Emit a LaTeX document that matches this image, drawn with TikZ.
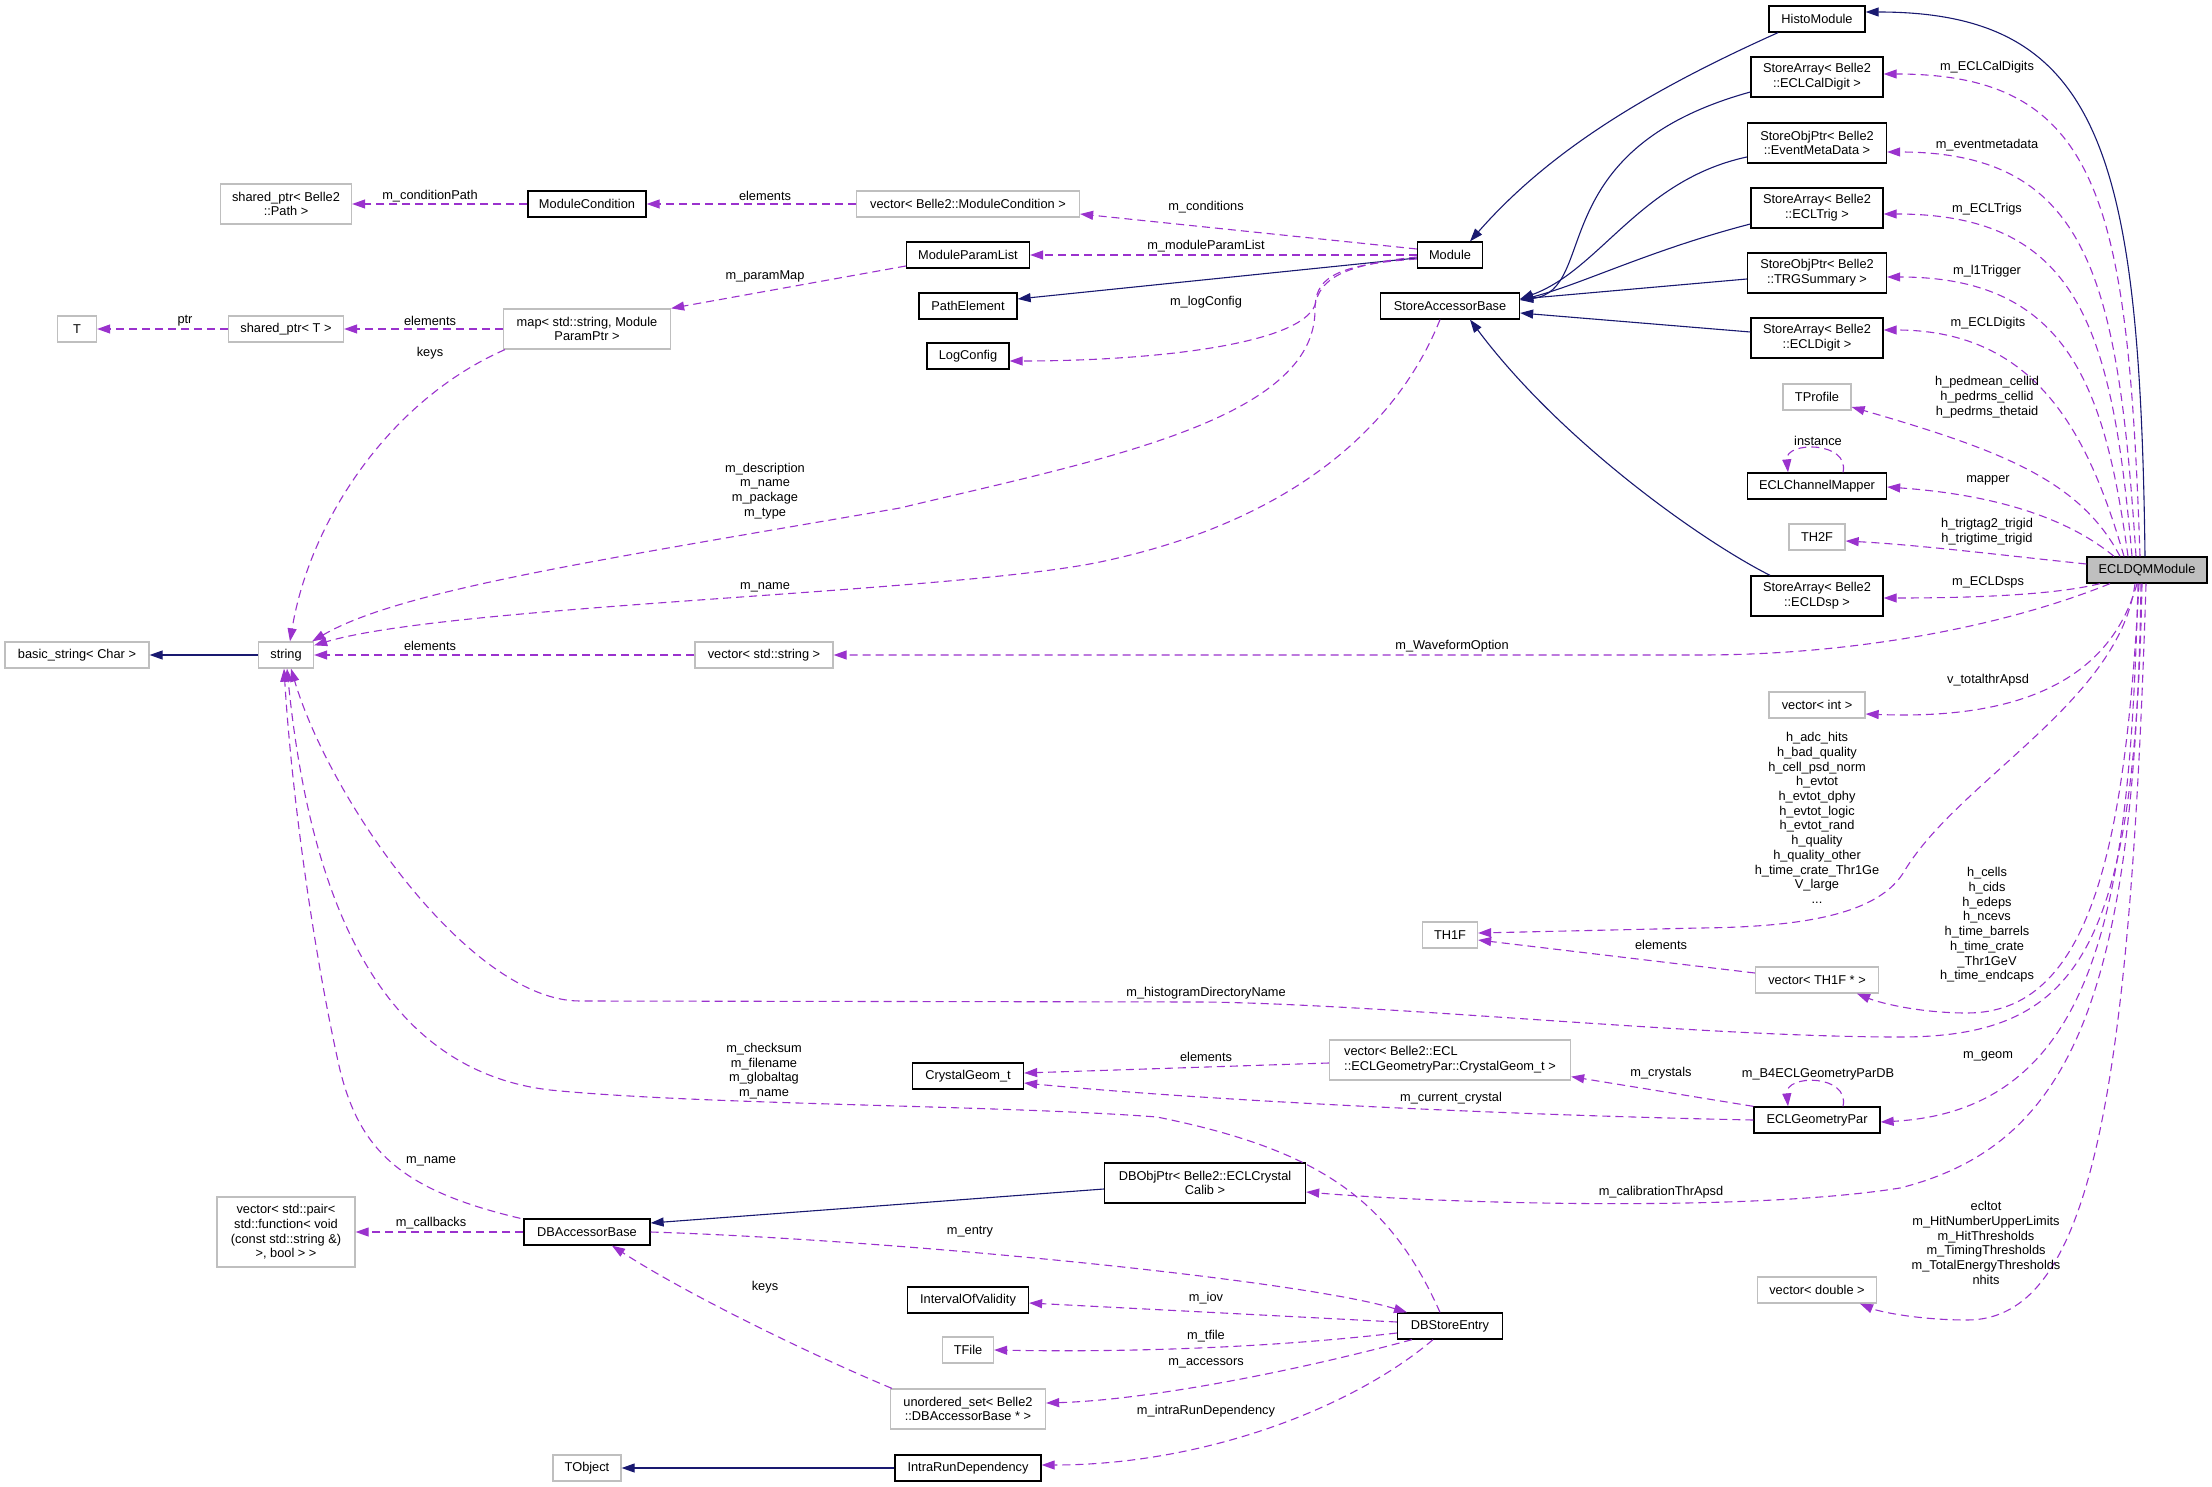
\documentclass[tikz,border=0pt]{standalone}
\usepackage{fontspec}
\setmainfont{Liberation Sans}
\usetikzlibrary{arrows.meta}
\definecolor{edgeuse}{HTML}{9A32CD}
\definecolor{edgeinh}{HTML}{191970}
\definecolor{boxgray}{HTML}{BFBFBF}
\tikzset{
  cls/.style={draw=black, line width=1.3pt, fill=white, inner xsep=6pt, inner ysep=3pt,
    minimum height=26pt, align=center},
  ext/.style={cls, draw=boxgray},
  two/.style={minimum height=40pt},
  lbl/.style={inner sep=0pt, align=center},
  derive/.style={draw=edgeinh, line width=1.1pt, -{Triangle[length=13pt,width=9pt]}},
  member/.style={draw=edgeuse, line width=1.1pt, dash pattern=on 8pt off 5pt,
    -{Triangle[length=13pt,width=9pt]}}
}
\begin{document}
\begin{tikzpicture}[x=1pt, y=-1pt, font=\fontsize{12.8}{14.7}\selectfont]
    \useasboundingbox (0,0) rectangle (2212,1487);

    % classes, right column
    \node[cls, minimum width=96pt] (histoMod) at (1817,19) {HistoModule};
    \node[cls, two, minimum width=132pt] (calDigit) at (1817,77) {StoreArray< Belle2\\::ECLCalDigit >};
    \node[cls, two, minimum width=139pt] (evtMeta) at (1817,143) {StoreObjPtr< Belle2\\::EventMetaData >};
    \node[cls, two, minimum width=132pt] (eclTrig) at (1817,208) {StoreArray< Belle2\\::ECLTrig >};
    \node[cls, two, minimum width=139pt] (trgSum) at (1817,273) {StoreObjPtr< Belle2\\::TRGSummary >};
    \node[cls, two, minimum width=132pt] (eclDigit) at (1817,338) {StoreArray< Belle2\\::ECLDigit >};
    \node[ext, minimum width=68pt] (tProfile) at (1817,397) {TProfile};
    \node[cls, minimum width=139pt] (chMapper) at (1817,486) {ECLChannelMapper};
    \node[ext, minimum width=56pt] (th2f) at (1817,537) {TH2F};
    \node[cls, two, minimum width=132pt] (eclDsp) at (1817,596) {StoreArray< Belle2\\::ECLDsp >};
    \node[cls, fill=boxgray, minimum width=120pt] (eclDQM) at (2147,570) {ECLDQMModule};
    \node[ext, minimum width=96pt] (vecInt) at (1817,705) {vector< int >};
    \node[ext, minimum width=123pt] (vecTH1F) at (1817,980) {vector< TH1F * >};
    \node[cls, minimum width=126pt] (geomPar) at (1817,1120) {ECLGeometryPar};
    \node[ext, minimum width=119pt] (vecDouble) at (1817,1290) {vector< double >};

    % classes, middle
    \node[ext, minimum width=223pt] (vecModCond) at (968,204) {vector< Belle2::ModuleCondition >};
    \node[cls, minimum width=123pt] (paramList) at (968,255) {ModuleParamList};
    \node[cls, minimum width=98pt] (pathElem) at (968,306) {PathElement};
    \node[cls, minimum width=82pt] (logConfig) at (968,356) {LogConfig};
    \node[cls, minimum width=65pt] (module) at (1450,255) {Module};
    \node[cls, minimum width=139pt] (accBase) at (1450,306) {StoreAccessorBase};
    \node[ext, minimum width=55pt] (th1f) at (1450,935) {TH1F};
    \node[ext, two, minimum width=241pt, align=left] (vecCrystal) at (1450,1060) {vector< Belle2::ECL\\::ECLGeometryPar::CrystalGeom\_t >};
    \node[cls, minimum width=111pt] (crystal) at (968,1076) {CrystalGeom\_t};
    \node[cls, two, minimum width=201pt] (dbObjPtr) at (1205,1183) {DBObjPtr< Belle2::ECLCrystal\\Calib >};
    \node[cls, minimum width=121pt] (iov) at (968,1300) {IntervalOfValidity};
    \node[cls, minimum width=105pt] (dbStore) at (1450,1326) {DBStoreEntry};
    \node[ext, minimum width=51pt] (tFile) at (968,1350) {TFile};
    \node[ext, two, minimum width=155pt] (unordSet) at (968,1409) {unordered\_set< Belle2\\::DBAccessorBase * >};
    \node[cls, minimum width=146pt] (intraRun) at (968,1468) {IntraRunDependency};

    % classes, left
    \node[ext, two, minimum width=131pt] (sharedPath) at (286,204) {shared\_ptr< Belle2\\::Path >};
    \node[cls, minimum width=118pt] (modCond) at (587,204) {ModuleCondition};
    \node[ext, minimum width=39pt] (tNode) at (77,329) {T};
    \node[ext, minimum width=115pt] (sharedT) at (286,329) {shared\_ptr< T >};
    \node[ext, two, minimum width=167pt] (paramMap) at (587,329) {map< std::string, Module\\ParamPtr >};
    \node[ext, minimum width=144pt] (basicStr) at (77,655) {basic\_string< Char >};
    \node[ext, minimum width=55pt] (strNode) at (286,655) {string};
    \node[ext, minimum width=138pt] (vecStr) at (764,655) {vector< std::string >};
    \node[ext, minimum width=138pt, minimum height=70pt] (vecPair) at (286,1232) {vector< std::pair<\\std::function< void\\(const std::string \&)\\>, bool > >};
    \node[cls, minimum width=126pt] (dbAccBase) at (587,1232) {DBAccessorBase};
    \node[ext, minimum width=68pt] (tObject) at (587,1468) {TObject};

    % inheritance
    \draw[derive] ([xshift=-2pt]eclDQM.north) .. controls (2140,150) and (2100,12) .. ([yshift=7pt]histoMod.east);
    \draw[derive] ([xshift=-39pt]histoMod.south) .. controls (1650,90) and (1550,150) .. ([xshift=20pt]module.north);
    \draw[derive] ([yshift=-15pt]calDigit.west) .. controls (1540,150) and (1600,290) .. ([yshift=6pt]accBase.east);
    \draw[derive] ([yshift=-14pt]evtMeta.west) .. controls (1640,180) and (1600,270) .. ([yshift=7pt]accBase.east);
    \draw[derive] ([yshift=-16pt]eclTrig.west) .. controls (1650,250) and (1580,285) .. ([yshift=6pt]accBase.east);
    \draw[derive] ([yshift=-6pt]trgSum.west) -- ([yshift=7pt]accBase.east);
    \draw[derive] ([yshift=6pt]eclDigit.west) -- ([yshift=-7pt]accBase.east);
    \draw[derive] ([xshift=-47pt]eclDsp.north) .. controls (1700,540) and (1560,440) .. ([xshift=20pt]accBase.south);
    \draw[derive] ([yshift=-3pt]module.west) -- ([yshift=7pt]pathElem.east);
    \draw[derive] (strNode.west) -- (basicStr.east);
    \draw[derive] ([yshift=-6pt]dbObjPtr.west) -- ([yshift=9pt]dbAccBase.east);
    \draw[derive] (intraRun.west) -- (tObject.east);

    % members of ECLDQMModule
    \draw[member] ([xshift=-7pt]eclDQM.north) .. controls (2128,200) and (2100,74) .. ([yshift=3pt]calDigit.east);
    \draw[member] ([xshift=-11pt]eclDQM.north) .. controls (2118,280) and (2090,152) .. ([yshift=-9pt]evtMeta.east);
    \draw[member] ([xshift=-15pt]eclDQM.north) .. controls (2112,330) and (2080,214) .. ([yshift=-6pt]eclTrig.east);
    \draw[member] ([xshift=-19pt]eclDQM.north) .. controls (2105,390) and (2070,277) .. ([yshift=-4pt]trgSum.east);
    \draw[member] ([xshift=-23pt]eclDQM.north) .. controls (2090,440) and (2040,330) .. ([yshift=8pt]eclDigit.east);
    \draw[member] ([xshift=-27pt]eclDQM.north) .. controls (2080,480) and (2000,450) .. ([yshift=-10pt]tProfile.east);
    \draw[member] ([xshift=-33pt]eclDQM.north) .. controls (2070,520) and (2000,495) .. ([yshift=-1pt]chMapper.east);
    \draw[member] ([yshift=6pt]eclDQM.west) .. controls (2000,555) and (1920,545) .. ([yshift=-4pt]th2f.east);
    \draw[member] ([xshift=-47pt]eclDQM.south) .. controls (2050,596) and (1960,598) .. ([yshift=-2pt]eclDsp.east);
    \draw[member] ([xshift=-37pt]eclDQM.south) .. controls (2000,628) and (1850,655) .. (1700,655) -- (vecStr.east);
    \draw[member] ([xshift=-10pt]eclDQM.south) .. controls (2110,680) and (2020,720) .. ([yshift=-9pt]vecInt.east);
    \draw[member] ([xshift=-12pt]eclDQM.south) .. controls (2120,700) and (1960,780) .. (1905,870)
        .. controls (1880,915) and (1800,927) .. (1700,928) -- ([yshift=2pt]th1f.east);
    \draw[member] ([xshift=-8pt]eclDQM.south) .. controls (2125,850) and (2090,1013) .. (1967,1013)
        .. controls (1920,1013) and (1880,1003) .. ([xshift=40pt]vecTH1F.south);
    \draw[member] ([xshift=-5pt]eclDQM.south) .. controls (2135,950) and (2080,1037) .. (1900,1037)
        .. controls (1700,1037) and (1400,1005) .. (1206,1002) -- (580,1001)
        .. controls (470,1001) and (330,800) .. ([xshift=5pt]strNode.south);
    \draw[member] ([xshift=-9pt]eclDQM.south) .. controls (2130,900) and (2100,1110) .. ([yshift=-2pt]geomPar.east);
    \draw[member] ([xshift=-6pt]eclDQM.south) .. controls (2135,1000) and (2070,1145) .. (1900,1188)
        .. controls (1750,1212) and (1450,1204) .. ([yshift=-9pt]dbObjPtr.east);
    \draw[member] ([xshift=-1pt]eclDQM.south) .. controls (2130,1100) and (2090,1320) .. (1967,1320)
        .. controls (1920,1320) and (1880,1312) .. ([xshift=43pt]vecDouble.south);

    % members of Module and friends
    \draw[member] ([yshift=6pt]module.west) -- ([yshift=-10pt]vecModCond.east);
    \draw[member] (module.west) -- (paramList.east);
    \draw[member] ([yshift=-2pt]module.west) .. controls (1340,265) and (1320,280) .. (1315,305)
        .. controls (1300,345) and (1150,361) .. ([yshift=-5pt]logConfig.east);
    \draw[member] ([yshift=-4pt]module.west) .. controls (1330,265) and (1315,280) .. (1315,310)
        .. controls (1315,420) and (1100,460) .. (900,508)
        .. controls (600,560) and (400,590) .. ([xshift=-2pt]strNode.north east);
    \draw[member] ([xshift=-10pt]accBase.south) .. controls (1400,420) and (1300,520) .. (1100,562)
        .. controls (950,593) and (450,605) .. ([yshift=-4pt]strNode.north east);
    \draw[member] ([xshift=2pt]paramMap.south west) .. controls (390,400) and (310,520) .. ([xshift=4pt]strNode.north);
    \draw[member] (vecStr.west) -- (strNode.east);
    \draw[member] ([yshift=-11pt]paramList.west) -- (paramMap.north east);
    \draw[member] (vecModCond.west) -- (modCond.east);
    \draw[member] (modCond.west) -- (sharedPath.east);
    \draw[member] (paramMap.west) -- (sharedT.east);
    \draw[member] (sharedT.west) -- (tNode.east);

    % database part
    \draw[member] (dbAccBase.east) .. controls (900,1240) and (1300,1280) .. ([xshift=-43pt]dbStore.north);
    \draw[member] ([xshift=2pt]unordSet.north west) .. controls (800,1350) and (680,1290) .. ([xshift=25pt]dbAccBase.south);
    \draw[member] (dbAccBase.west) -- (vecPair.east);
    \draw[member] ([xshift=-3pt]dbAccBase.north west) .. controls (400,1190) and (360,1150) .. (340,1070)
        .. controls (315,960) and (292,800) .. ([xshift=-2pt]strNode.south);
    \draw[member] ([xshift=-10pt]dbStore.north) .. controls (1390,1200) and (1320,1150) .. (1157,1117)
        .. controls (1000,1105) and (700,1105) .. (550,1090)
        .. controls (380,1070) and (310,900) .. ([xshift=1pt]strNode.south);
    \draw[member] ([yshift=4pt]dbStore.west) -- ([yshift=-3pt]iov.east);
    \draw[member] ([yshift=-7pt]dbStore.west) .. controls (1250,1350) and (1100,1352) .. (tFile.east);
    \draw[member] ([xshift=-38pt]dbStore.south) .. controls (1300,1370) and (1150,1400) .. ([yshift=6pt]unordSet.east);
    \draw[member] ([xshift=-17pt]dbStore.south) .. controls (1350,1410) and (1200,1465) .. ([yshift=3pt]intraRun.east);

    % geometry and self loops
    \draw[member] (geomPar.north west) -- ([yshift=4pt]vecCrystal.south east);
    \draw[member] (geomPar.west) .. controls (1500,1115) and (1200,1100) .. ([yshift=-7pt]crystal.east);
    \draw[member] ([yshift=-3pt]vecCrystal.west) -- ([yshift=3pt]crystal.east);
    \draw[member] ([xshift=26pt]geomPar.north) .. controls (1850,1074) and (1785,1074) .. ([xshift=-29pt]geomPar.north);
    \draw[member] ([xshift=26pt]chMapper.north) .. controls (1850,441) and (1785,441) .. ([xshift=-29pt]chMapper.north);
    \draw[member] ([yshift=7pt]vecTH1F.west) -- ([yshift=-5pt]th1f.east);

    % edge labels
    \node[lbl] (lCalDigit) at (1987,67) {m\_ECLCalDigits};
    \node[lbl] (lEvtMeta) at (1987,145) {m\_eventmetadata};
    \node[lbl] (lTrig) at (1987,209) {m\_ECLTrigs};
    \node[lbl] (lTrgSum) at (1987,271) {m\_l1Trigger};
    \node[lbl] (lDigit) at (1988,323) {m\_ECLDigits};
    \node[lbl] (lProfile) at (1987,397) {h\_pedmean\_cellid\\h\_pedrms\_cellid\\h\_pedrms\_thetaid};
    \node[lbl] (lInstance) at (1818,441) {instance};
    \node[lbl] (lMapper) at (1988,480) {mapper};
    \node[lbl] (lTH2F) at (1987,532) {h\_trigtag2\_trigid\\h\_trigtime\_trigid};
    \node[lbl] (lDsp) at (1988,582) {m\_ECLDsps};
    \node[lbl] (lVecInt) at (1988,680) {v\_totalthrApsd};
    \node[lbl] (lTH1F) at (1817,818) {h\_adc\_hits\\h\_bad\_quality\\h\_cell\_psd\_norm\\h\_evtot\\h\_evtot\_dphy\\h\_evtot\_logic\\h\_evtot\_rand\\h\_quality\\h\_quality\_other\\h\_time\_crate\_Thr1Ge\\V\_large\\...};
    \node[lbl] (lVecTH1F) at (1987,925) {h\_cells\\h\_cids\\h\_edeps\\h\_ncevs\\h\_time\_barrels\\h\_time\_crate\\\_Thr1GeV\\h\_time\_endcaps};
    \node[lbl] (lGeomSelf) at (1818,1074) {m\_B4ECLGeometryParDB};
    \node[lbl] (lGeom) at (1988,1056) {m\_geom};
    \node[lbl] (lCalib) at (1661,1192) {m\_calibrationThrApsd};
    \node[lbl] (lDouble) at (1986,1243) {ecltot\\m\_HitNumberUpperLimits\\m\_HitThresholds\\m\_TimingThresholds\\m\_TotalEnergyThresholds\\nhits};
    \node[lbl] (lConditions) at (1206,207) {m\_conditions};
    \node[lbl] (lParamList) at (1206,246) {m\_moduleParamList};
    \node[lbl] (lLogConfig) at (1206,302) {m\_logConfig};
    \node[lbl] (lWaveform) at (1452,646) {m\_WaveformOption};
    \node[lbl] (lCondPath) at (430,196) {m\_conditionPath};
    \node[lbl] (lCondElem) at (765,196) {elements};
    \node[lbl] (lParamMap) at (765,276) {m\_paramMap};
    \node[lbl] (lPtr) at (185,321) {ptr};
    \node[lbl] (lMapElem) at (430,321) {elements};
    \node[lbl] (lKeys) at (430,353) {keys};
    \node[lbl] (lDescr) at (765,491) {m\_description\\m\_name\\m\_package\\m\_type};
    \node[lbl] (lAccName) at (765,587) {m\_name};
    \node[lbl] (lStrElem) at (430,646) {elements};
    \node[lbl] (lTH1FElem) at (1661,945) {elements};
    \node[lbl] (lHistDir) at (1206,993) {m\_histogramDirectoryName};
    \node[lbl] (lCrysElem) at (1206,1057) {elements};
    \node[lbl] (lCrystals) at (1661,1073) {m\_crystals};
    \node[lbl] (lCurCrys) at (1451,1098) {m\_current\_crystal};
    \node[lbl] (lChecksum) at (764,1071) {m\_checksum\\m\_filename\\m\_globaltag\\m\_name};
    \node[lbl] (lDBName) at (431,1161) {m\_name};
    \node[lbl] (lCallbacks) at (431,1223) {m\_callbacks};
    \node[lbl] (lEntry) at (970,1232) {m\_entry};
    \node[lbl] (lDBKeys) at (765,1287) {keys};
    \node[lbl] (lIov) at (1206,1298) {m\_iov};
    \node[lbl] (lTFile) at (1206,1336) {m\_tfile};
    \node[lbl] (lAccessors) at (1206,1363) {m\_accessors};
    \node[lbl] (lIntraRun) at (1206,1411) {m\_intraRunDependency};
\end{tikzpicture}
\end{document}
